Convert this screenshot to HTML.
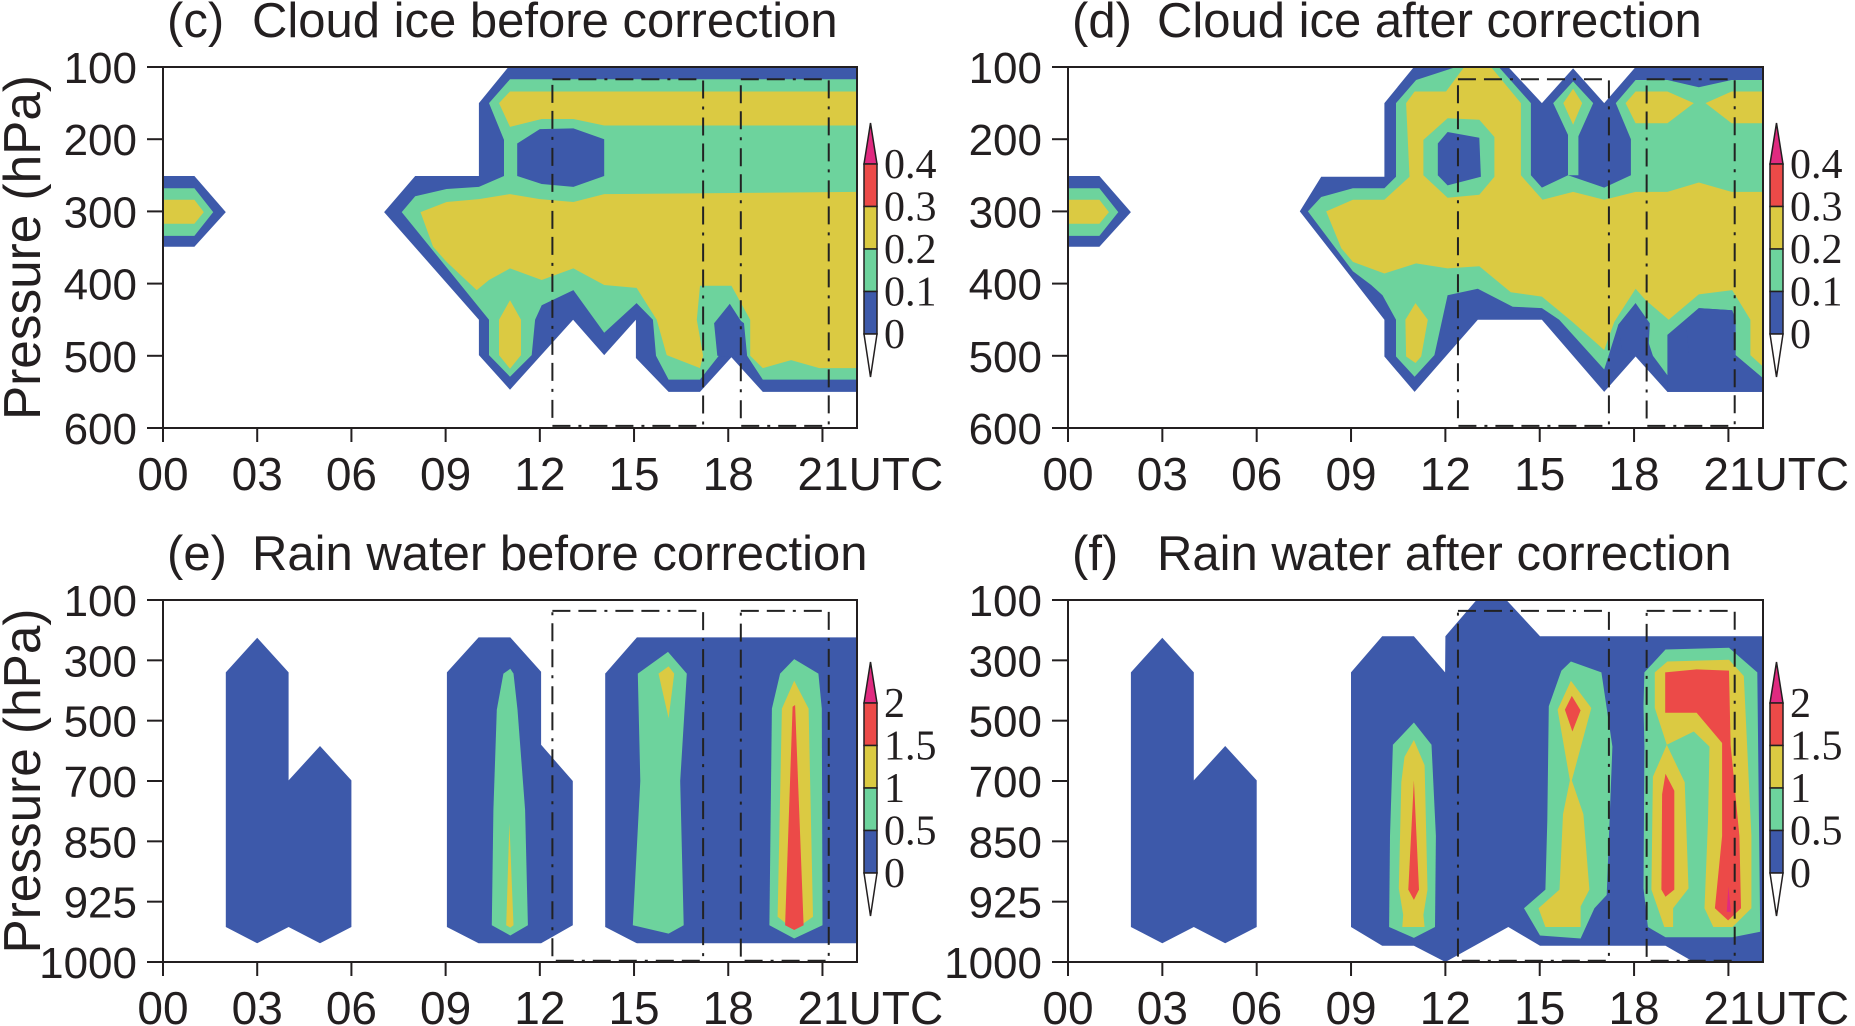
<!DOCTYPE html>
<html><head><meta charset="utf-8"><style>
html,body{margin:0;padding:0;background:#fff}
svg{display:block}
text{font-family:"Liberation Sans",sans-serif;fill:#231f20}
.cb{font-family:"Liberation Serif",serif}
</style></head><body>
<svg id="fig" width="1855" height="1026" viewBox="0 0 1855 1026" xmlns="http://www.w3.org/2000/svg"></svg>
<script>
// ===== data =====
const TOP_TICKS = [100,200,300,400,500,600];
const BOT_LEVELS = ['100','300','500','700','850','925','1000'];
const X_TICKS = [0,3,6,9,12,15,18,21];
const X_LABELS = ['00','03','06','09','12','15','18','21UTC'];
const CB_TOP = ['0.4','0.3','0.2','0.1','0'];
const CB_BOT = ['2','1.5','1','0.5','0'];
const TITLES = ['Cloud ice before correction','Cloud ice after correction','Rain water before correction','Rain water after correction'];
const LETTERS = ['(c)','(d)','(e)','(f)'];

const S_BLUE = [[0,251],[1,251],[2,301],[1,349],[0,349]];
const S_GREEN = [[0,268],[1,268],[1.6,301],[1,334],[0,334]];
const S_YEL = [[0,284],[1,284],[1.3,301],[1,317],[0,317]];

const C_BLUE = [[11,100],[22.1,100],[22.1,550],[19.1,550],[18.1,502],[17.1,550],[16.1,550],[15.06,503],[15.06,450],[14.05,499],[13.06,450],[11.05,547],[10.06,499],[10.06,450],[7.04,301],[8.03,251],[10.06,251],[10.06,150]];
const C_GREEN = [[11.05,117],[22.1,117],[22.1,533],[19.1,533],[18.6,500],[18.5,455],[18.05,440],[17.6,455],[17.7,500],[17.1,533],[16.1,533],[15.7,500],[15.6,450],[15.08,427],[14.05,468],[13.07,409],[12.06,430],[11.85,450],[11.74,499],[11.05,529],[10.38,499],[10.38,450],[7.6,301],[8.03,279],[9.03,269],[10.06,266],[10.86,251],[10.86,201],[10.38,150]];
const C_YEL1 = [[10.7,150],[11.05,134],[22.1,134],[22.1,181],[14.05,181],[13.07,172],[12.06,172],[11.05,183]];
const C_YEL2 = [[8.2,301],[9.03,287],[10.06,283],[11.05,276],[12.0,283],[13.07,287],[14.05,276],[22.1,273],[22.1,517],[20.9,517],[20.0,506],[19.1,517],[18.7,500],[18.7,450],[18.1,403],[17.1,403],[17.0,450],[17.2,500],[17.1,517],[16.04,499],[15.72,450],[15.08,406],[14.05,402],[13.07,379],[12.06,395],[11.05,379],[10.38,395],[9.99,409],[9.03,370],[8.6,349]];
const C_YEL3 = [[11.05,423],[11.4,450],[11.4,499],[11.05,518],[10.7,499],[10.7,450]];
const C_HOLE = [[11.28,206],[12.0,186],[13.07,185],[14.05,200],[14.05,251],[13.07,266],[12.06,262],[11.28,251]];
const C_NOTCH = [[17.55,455],[18.05,428],[18.45,455],[18.45,500],[18.1,502],[17.65,500]];

const D_BLUE = [[11,100],[14.0,100],[15.07,150],[16.06,102],[17.05,150],[18.05,100],[22.1,100],[22.1,550],[19.06,550],[18.05,501],[17.05,550],[15.07,450],[13.03,450],[11.02,550],[10.06,501],[10.06,450],[7.37,300],[8.05,252],[10.06,252],[10.06,150]];
const D_GREEN = [[11.07,118],[12.34,100],[13.7,100],[14.72,150],[14.72,250],[15.07,267],[15.9,250],[17.05,267],[17.9,250],[17.9,200],[17.42,150],[18.05,118],[19.06,118],[20.06,128],[21.1,118],[22.1,118],[22.1,531],[21.23,499],[21.23,450],[21.12,437],[20.06,434],[19.06,471],[19.06,527],[18.6,500],[18.05,427],[17.5,457],[17.05,519],[15.62,450],[15.07,434],[14.14,432],[13.03,407],[12.07,416],[11.65,499],[11.02,529],[10.43,501],[10.43,450],[10.0,416],[9.64,402],[9.06,383],[7.63,300],[8.05,280],[9.06,268],[10.06,268],[10.43,252],[10.43,150]];
const D_YEL = [[10.75,150],[11.02,134],[12.02,134],[12.6,100],[13.45,100],[14.4,150],[14.4,250],[15.09,284],[16.06,273],[17.05,284],[18.05,273],[19.06,273],[20.06,260],[21.1,273],[22.1,273],[22.1,515],[21.7,499],[21.7,450],[21.12,409],[20.06,415],[19.1,450],[18.37,423],[18.05,407],[17.37,453],[17.05,492],[16.04,453],[15.07,418],[14.08,412],[13.08,376],[12.07,379],[11.07,372],[10.06,386],[9.06,370],[8.69,351],[8.21,300],[9.06,284],[10.06,284],[10.86,252]];
const D_BLUE2 = [[19.64,450],[20.06,434],[21.12,437],[21.23,450],[21.23,499],[22.1,531],[22.1,550],[19.06,550],[19.06,527],[19.75,501]];
const D_NOTCH = [[17.5,457],[18.05,427],[18.5,455],[18.45,501],[18.05,501],[17.6,490]];
const D_GDIAM = [[15.43,150],[16.06,120],[16.7,150],[16.23,196],[16.23,250],[15.9,250],[15.9,194]];
const D_YDIAM = [[15.75,150],[16.06,130],[16.35,150],[16.06,180]];
const D_GRING = [[11.3,201],[12.07,171],[13.08,173],[13.56,197],[13.56,252],[13.08,277],[12.07,281],[11.3,250]];
const D_HOLE = [[11.76,206],[12.07,190],[13.08,198],[13.13,252],[12.07,264],[11.76,250]];
const D_YUR1 = [[17.73,150],[18.05,134],[19.06,134],[19.9,150],[19.06,178],[18.05,178]];
const D_YUR2 = [[20.27,150],[21.1,134],[22.1,134],[22.1,178],[21.1,178]];
const D_YSPIKE = [[11.05,427],[11.44,450],[11.23,501],[11.05,510],[10.75,501],[10.73,450]];

const E_A = [[3,0.625],[4,1.2],[4,2.99],[5,2.42],[6,2.99],[6,5.42],[5,5.69],[4,5.42],[3,5.69],[2,5.42],[2,1.2]];
const E_B = [[9.04,1.2],[10.05,0.62],[11.06,0.62],[12.04,1.19],[12.04,2.4],[13.05,3.0],[13.05,5.39],[12.04,5.69],[10.05,5.69],[9.04,5.42]];
const E_BG = [[10.84,1.22],[11.06,1.14],[11.16,1.22],[11.29,1.82],[11.53,3.48],[11.62,5.39],[11.06,5.56],[10.47,5.39],[10.52,3.48],[10.63,1.82]];
const E_BY = [[11.03,3.7],[11.16,5.39],[11.06,5.43],[10.93,5.39]];
const E_C = [[15.09,0.62],[22.1,0.62],[22.1,5.69],[15.09,5.69],[14.08,5.42],[14.08,1.22]];
const E_CG1 = [[15.12,1.22],[16.08,0.86],[16.68,1.22],[16.47,3.0],[16.58,5.39],[16.1,5.53],[14.96,5.39],[15.2,3.0]];
const E_CY1 = [[15.78,1.22],[16.1,1.1],[16.28,1.22],[16.1,1.96]];
const E_CG2 = [[19.39,1.8],[19.65,1.22],[20.1,0.98],[20.87,1.22],[20.98,1.8],[21.0,5.39],[20.1,5.61],[19.31,5.39]];
const E_CY2 = [[19.71,1.8],[20.1,1.34],[20.56,1.8],[20.7,5.25],[20.1,5.47],[19.57,5.25]];
const E_CR2 = [[20.05,1.77],[20.13,1.74],[20.4,5.39],[20.1,5.47],[19.81,5.39]];

const F_BIG = [[9,1.2],[9.99,0.6],[11.0,0.6],[11.99,1.2],[12.0,0.6],[12.99,0],[13.94,0],[15.01,0.6],[16.0,0.6],[22.1,0.6],[22.1,6],[19.9,6],[19.0,5.73],[15.01,5.73],[14.0,5.42],[12.0,6],[11.0,5.73],[9.99,5.73],[9,5.42]];
const F_G1 = [[11,2.03],[11.56,2.4],[11.7,3.91],[11.67,5.42],[11,5.6],[10.21,5.42],[10.24,3.91],[10.33,2.4]];
const F_Y1 = [[11,2.32],[11.34,2.74],[11.43,4.8],[11.3,5.22],[11.34,5.42],[10.63,5.42],[10.66,5.22],[10.52,4.78],[10.6,3.02],[10.7,2.6]];
const F_R1 = [[11,2.99],[11.16,4.8],[11,4.97],[10.82,4.8]];
const F_G2 = [[15.69,1.17],[15.99,1.02],[16.96,1.2],[17.31,2.43],[17.13,4.89],[16.74,5.11],[16.3,5.61],[15.01,5.56],[14.5,5.11],[15.18,4.8],[15.24,3.66],[15.29,1.76]];
const F_Y2 = [[15.57,1.82],[15.99,1.34],[16.64,1.79],[16.02,2.99],[16.39,3.55],[16.58,4.8],[16.3,5.08],[16.3,5.42],[15.18,5.42],[14.96,5.11],[15.63,4.8],[15.74,3.55],[15.96,2.99]];
const F_R2 = [[15.8,1.82],[16.02,1.59],[16.3,1.83],[16.04,2.18]];
const F_G3 = [[18.33,1.2],[19,0.82],[21.02,0.79],[21.92,1.2],[22.01,5.5],[21.13,5.59],[19,5.59],[18.44,5.42],[18.3,4.78],[18.33,2.43],[18.3,1.76]];
const F_Y3 = [[18.66,1.2],[19.06,1.02],[21.02,0.99],[21.49,1.26],[21.73,3.91],[21.73,5.11],[21.13,5.42],[18.96,5.42],[18.55,4.8],[18.6,2.93],[19.04,2.4],[18.66,1.79]];
const F_GH = [[19.04,2.4],[19.9,2.18],[20.4,2.43],[20.35,3.66],[20.24,5.11],[20.52,5.42],[19.24,5.42],[19.24,5.11],[19.73,4.78],[19.61,3.02]];
const F_R3 = [[18.99,1.2],[19.99,1.15],[21.02,1.17],[21.07,2.4],[21.35,3.91],[21.4,5.11],[20.99,5.31],[20.57,5.11],[20.8,3.91],[20.8,2.37],[19.99,1.87],[18.99,1.87]];
const F_R4 = [[19,2.88],[19.28,3.16],[19.28,4.8],[19,4.92],[18.87,4.8],[18.89,3.22]];
const F_M = [[21.0,4.75],[21.08,5.17],[20.95,5.17]];

const BOX_HOURS = [[12.4,17.2],[18.4,21.2]];
const BOX_P = [117,597];
const BOX_IDX = [0.18,5.98];

// ===== style =====
const COL = {b:'#3d59aa', g:'#6dd39d', y:'#dbca42', r:'#ec4a48', m:'#e02a80'};
const NS = 'http://www.w3.org/2000/svg';
const svg = document.getElementById('fig');
function el(tag, attrs, parent){const e=document.createElementNS(NS,tag);for(const k in attrs)e.setAttribute(k,attrs[k]);(parent||svg).appendChild(e);return e;}

const PANELS = [
 {left:163,right:857,top:67,bottom:428,kind:'p',name:'panel-c-cloud-ice-before',
  layers:[[S_BLUE,'b'],[S_GREEN,'g'],[S_YEL,'y'],[C_BLUE,'b'],[C_GREEN,'g'],[C_YEL1,'y'],[C_YEL2,'y'],[C_YEL3,'y'],[C_HOLE,'b'],[C_NOTCH,'b']]},
 {left:1068,right:1763,top:67,bottom:428,kind:'p',name:'panel-d-cloud-ice-after',
  layers:[[S_BLUE,'b'],[S_GREEN,'g'],[S_YEL,'y'],[D_BLUE,'b'],[D_GREEN,'g'],[D_YEL,'y'],[D_BLUE2,'b'],[D_NOTCH,'b'],[D_GDIAM,'g'],[D_YDIAM,'y'],[D_GRING,'g'],[D_HOLE,'b'],[D_YUR1,'y'],[D_YUR2,'y'],[D_YSPIKE,'y']]},
 {left:163,right:857,top:600,bottom:962,kind:'i',name:'panel-e-rain-water-before',
  layers:[[E_A,'b'],[E_B,'b'],[E_BG,'g'],[E_BY,'y'],[E_C,'b'],[E_CG1,'g'],[E_CY1,'y'],[E_CG2,'g'],[E_CY2,'y'],[E_CR2,'r']]},
 {left:1068,right:1763,top:600,bottom:962,kind:'i',name:'panel-f-rain-water-after',
  layers:[[E_A,'b'],[F_BIG,'b'],[F_G1,'g'],[F_Y1,'y'],[F_R1,'r'],[F_G2,'g'],[F_Y2,'y'],[F_R2,'r'],[F_G3,'g'],[F_Y3,'y'],[F_GH,'g'],[F_R3,'r'],[F_R4,'r'],[F_M,'m']]}
];
const XMAX = 22.1;

PANELS.forEach((P,pi)=>{
  const g = el('g',{});
  
  
  const xs = h => P.left + h*(P.right-P.left)/XMAX;
  const ys = P.kind==='p' ? (p => P.top + (p-100)*(P.bottom-P.top)/500)
                          : (i => P.top + i*(P.bottom-P.top)/6);
  const cid = 'clip'+pi;
  const cp = el('clipPath',{id:cid},g);
  el('rect',{x:P.left,y:P.top,width:P.right-P.left,height:P.bottom-P.top},cp);
  const shapes = el('g',{'clip-path':'url(#'+cid+')'},g);
  
  
  P.layers.forEach(([pts,c])=>{
    const poly = el('polygon',{points:pts.map(q=>xs(q[0]).toFixed(1)+','+ys(q[1]).toFixed(1)).join(' '),fill:COL[c]},shapes);
    
    
  });
  const bt = P.kind==='p'?BOX_P:BOX_IDX;
  BOX_HOURS.forEach((b,bi)=>{
    const r = el('rect',{x:xs(b[0]),y:ys(bt[0]),width:xs(b[1])-xs(b[0]),height:ys(bt[1])-ys(bt[0]),fill:'none',stroke:'#222','stroke-width':2,'stroke-dasharray':'18,8,18,8,3,8'},g);
    
    
  });
  const fr = el('rect',{x:P.left,y:P.top,width:P.right-P.left,height:P.bottom-P.top,fill:'none',stroke:'#231f20','stroke-width':2},g);
  
  
  const ylab = P.kind==='p'?TOP_TICKS.map(String):BOT_LEVELS;
  ylab.forEach((t,i)=>{
    const y = P.kind==='p'?ys(TOP_TICKS[i]):ys(i);
    el('line',{x1:P.left-16,x2:P.left,y1:y,y2:y,stroke:'#231f20','stroke-width':2},g);
    const tx = el('text',{x:P.left-26,y:y+16,'font-size':44,'text-anchor':'end'},g);
    tx.textContent = t;
    
    
  });
  X_TICKS.forEach((h,i)=>{
    const x = xs(h);
    el('line',{x1:x,x2:x,y1:P.bottom,y2:P.bottom+14,stroke:'#231f20','stroke-width':2},g);
    const last = i===X_TICKS.length-1;
    const tx = el('text',{x:last?x-25:x,y:P.bottom+62,'font-size':46,'text-anchor':last?'start':'middle'},g);
    tx.textContent = X_LABELS[i];
    
    
  });
  const tl = el('text',{x:P.left+4,y:P.top-30,'font-size':49},g);
  tl.textContent = LETTERS[pi];
  
  
  const tt = el('text',{x:P.left+89,y:P.top-30,'font-size':49},g);
  tt.textContent = TITLES[pi];
  
  
  if(pi%2===0){
    const cy = (P.top+P.bottom)/2;
    const ya = el('text',{x:0,y:0,'font-size':52,'text-anchor':'middle',textLength:345,lengthAdjust:'spacingAndGlyphs',transform:'translate(40,'+cy+') rotate(-90)'},g);
    ya.textContent = 'Pressure (hPa)';
    
    
  }
  const cb = el('g',{},g);
  
  
  const cx = P.right+7, cw = 13, seg = 42.5;
  const tip = P.kind==='p'?123:662;
  const top0 = tip+41;
  const labs = P.kind==='p'?CB_TOP:CB_BOT;
  el('polygon',{points:`${cx},${top0} ${cx+cw/2},${tip} ${cx+cw},${top0}`,fill:COL.m,stroke:'#231f20','stroke-width':1.5},cb);
  [COL.r,COL.y,COL.g,COL.b].forEach((c,i)=>{
    el('rect',{x:cx,y:top0+i*seg,width:cw,height:seg,fill:c,stroke:'#231f20','stroke-width':1.5},cb);
  });
  const bot0 = top0+4*seg;
  el('polygon',{points:`${cx},${bot0} ${cx+cw/2},${bot0+43} ${cx+cw},${bot0}`,fill:'#fff',stroke:'#231f20','stroke-width':1.5},cb);
  labs.forEach((l,i)=>{
    const t = el('text',{x:cx+20,y:top0+i*seg+14,'font-size':42,class:'cb'},cb);
    t.textContent = l;
    
    
  });
});
</script>
</body></html>
